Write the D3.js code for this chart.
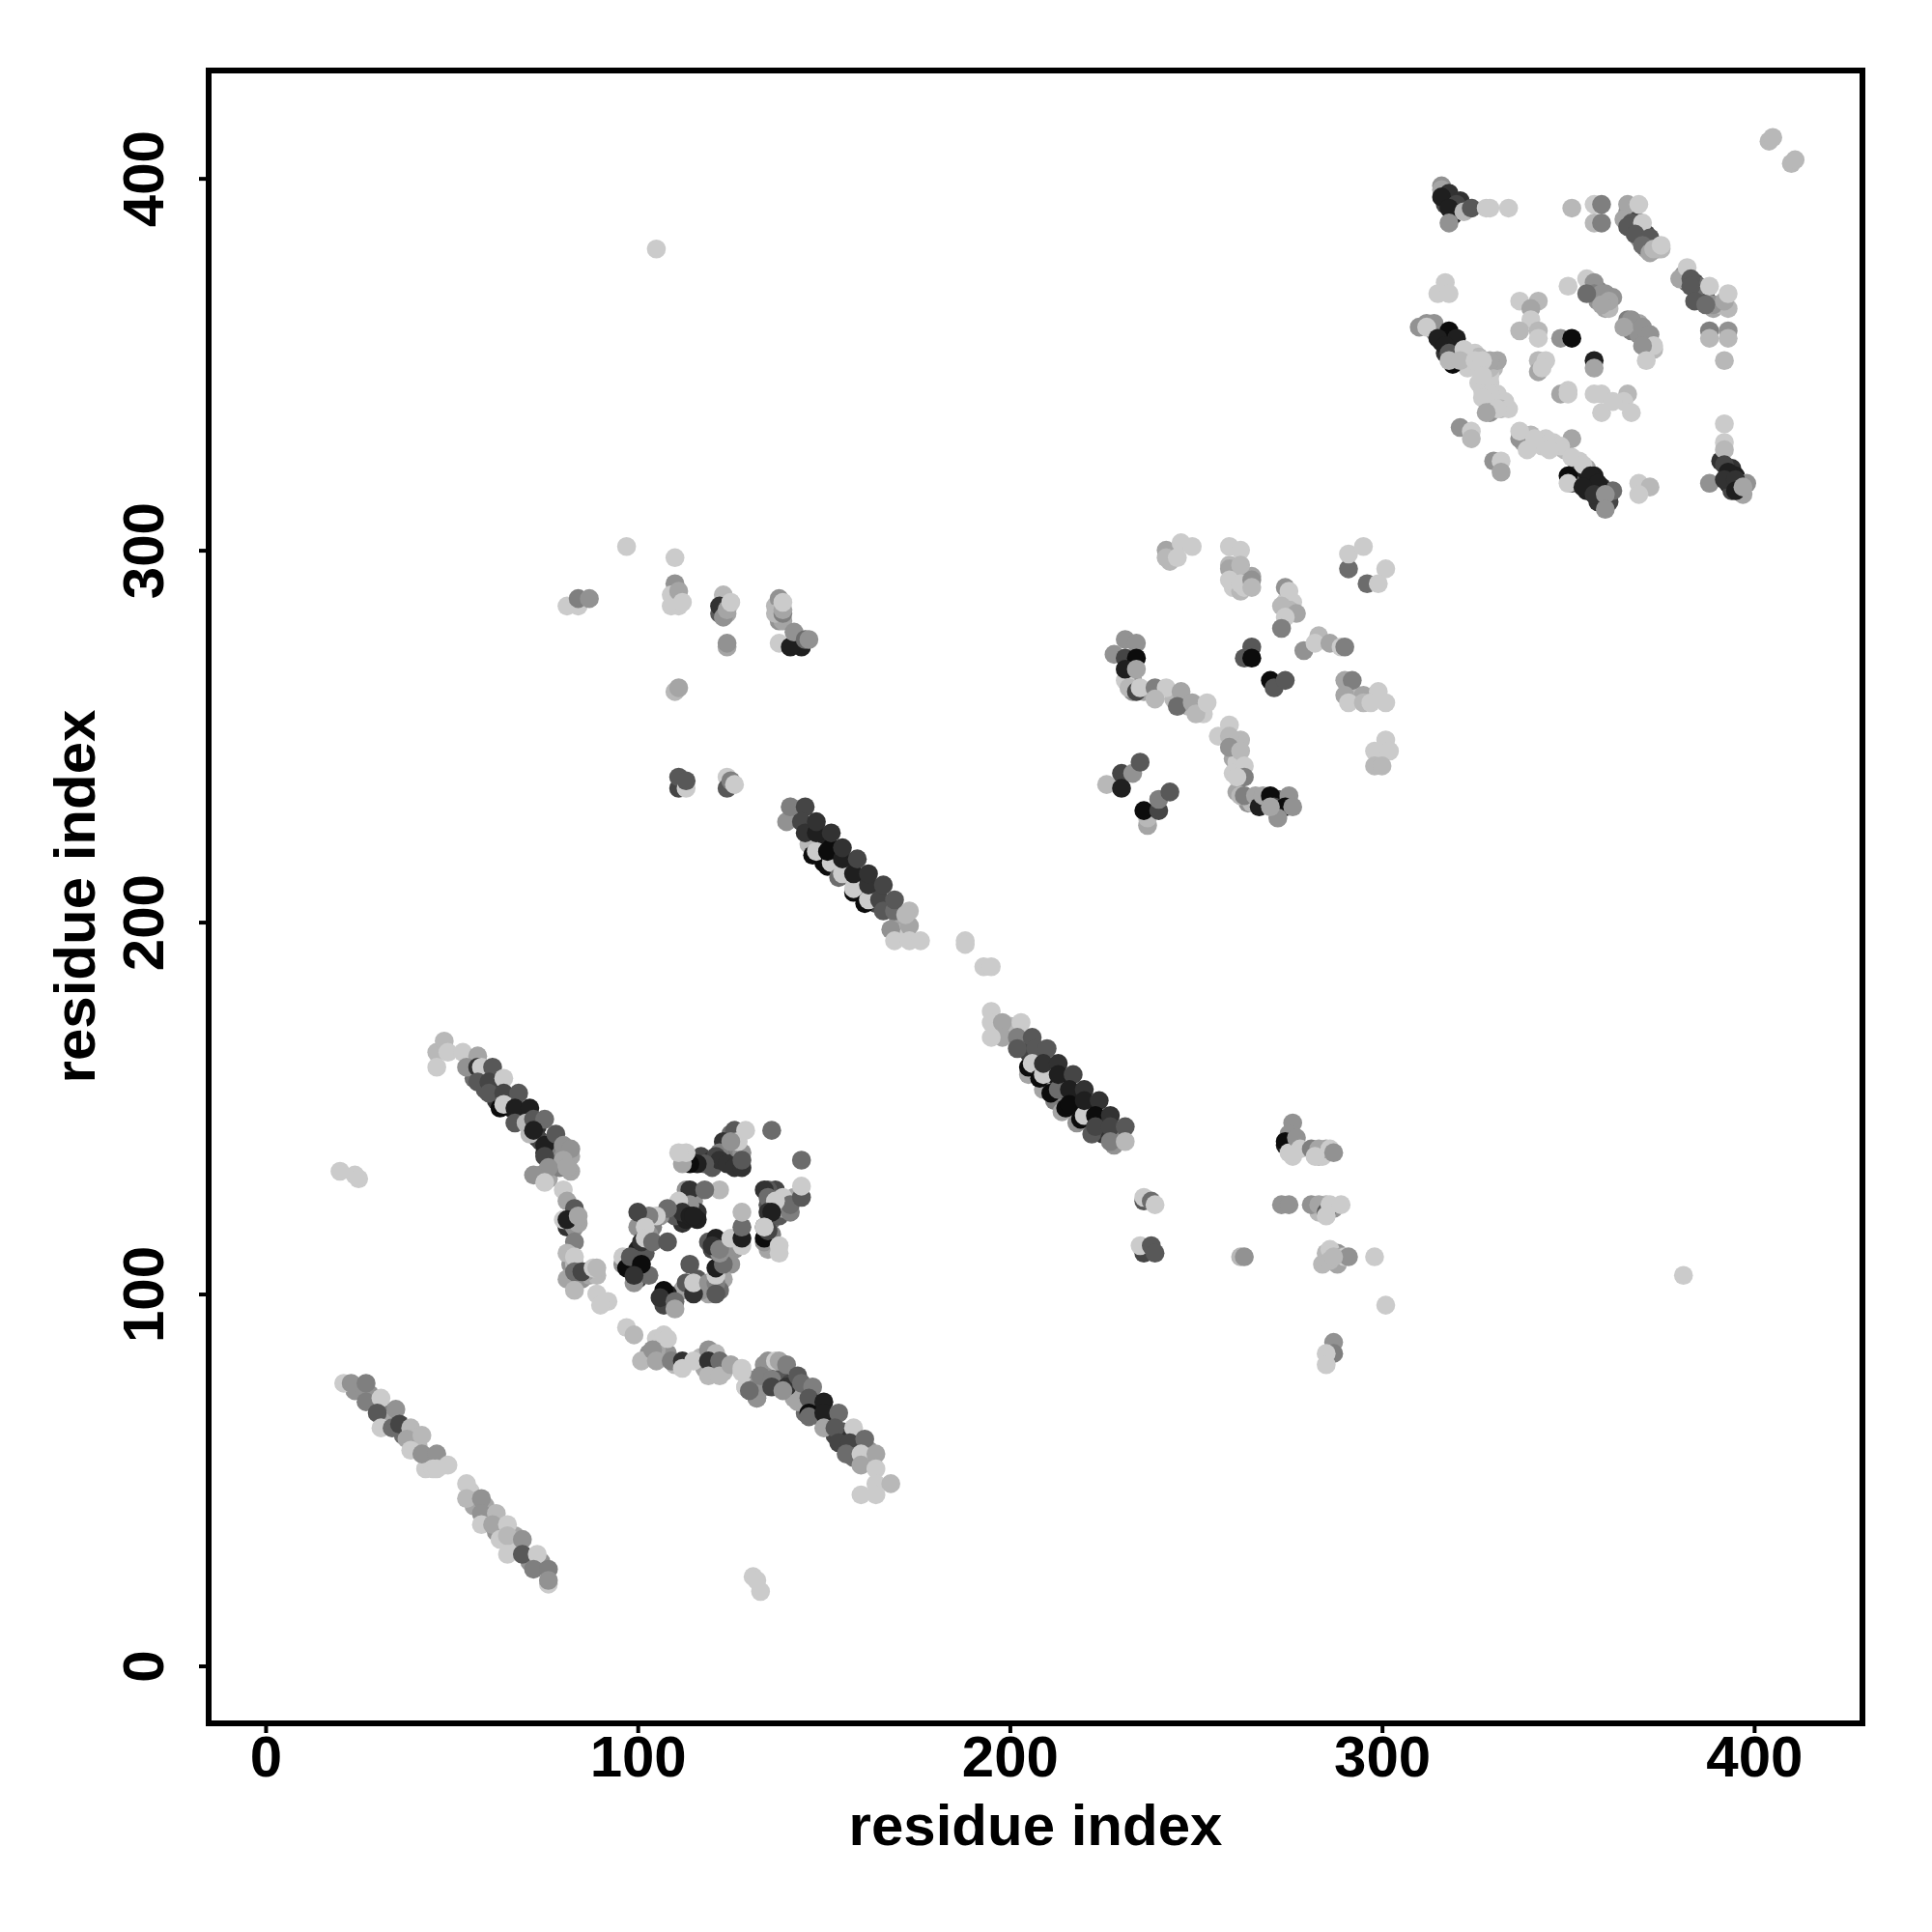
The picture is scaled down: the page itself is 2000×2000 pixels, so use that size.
<!DOCTYPE html>
<html><head><meta charset="utf-8">
<script src="https://cdn.jsdelivr.net/npm/d3@7"></script>
<style>html,body{margin:0;padding:0;background:#fff}svg{display:block}</style>
</head><body><div id="c"></div>
<script>
// rows: [residue i, residue j, score]
const fillDiagonals=[[143,228,7],[146,225,8],[147,222,10],[149,221,9],[150,220,9],[152,220,10],[153,218,9],[154,216,9],[156,215,8],[157,214,8],[159,212,8],[160,210,9],[161,209,8],[163,208,7],[164,205,7],[167,204,6],[168,204,5],[170,201,3],[171,200,2],[170,198,2],[171,197,1],[172,196,0],[146,221,1],[149,218,1],[150,216,10],[197,171,1],[199,170,2],[200,172,1],[204,168,6],[205,165,7],[208,163,8],[210,160,8],[211,158,9],[212,157,9],[214,157,9],[215,153,10],[217,153,9],[218,150,10],[219,149,8],[221,150,9],[222,147,9],[224,146,8],[225,143,8],[226,146,7],[229,143,6],[229,141,4],[205,159,2],[209,155,2],[212,152,4],[214,149,2],[218,146,3],[222,143,6],[228,140,3]];
const fillLeft=[[59,159,5],[62,156,7],[62,152,8],[65,152,8],[66,150,9],[68,148,9],[69,147,8],[70,148,9],[73,145,8],[73,142,8],[74,141,7],[75,138,8],[77,141,6],[78,138,5],[79,137,4],[80,137,3],[81,135,3],[82,133,2],[77,135,4],[74,132,3],[76,131,2],[79,134,4],[82,137,2],[56,158,5],[59,155,6],[81,118,8],[82,119,7],[83,118,3],[84,119,2],[82,108,3],[84,104,6],[85,104,3],[87,105,2],[89,105,1],[83,103,3],[81,104,2],[83,108,1],[103,84,3],[106,83,1],[107,85,4],[108,84,3],[110,81,1],[120,83,5],[121,81,6],[122,80,2],[123,79,1],[118,80,2],[117,83,1],[105,88,0],[105,85,2],[134,75,3],[136,79,4],[137,80,5],[138,78,6],[135,77,7],[141,76,7],[142,74,8],[144,73,9],[145,72,8],[148,70,9],[147,69,9],[149,67,8],[151,66,9],[152,66,7],[153,62,7],[155,63,6],[156,62,8],[157,58,6],[159,59,4],[161,55,3],[162,58,3],[163,55,2],[158,56,5],[145,68,5],[142,72,2],[133,76,5],[130,77,3],[24,74,3],[28,73,3],[33,68,4],[33,66,2],[37,62,5],[40,61,3],[41,59,1],[44,56,4],[43,53,0],[48,54,0],[55,47,0],[56,43,2],[59,43,2],[60,39,2],[63,37,0],[62,36,3],[67,35,2],[67,32,0],[71,28,3],[74,28,3]];
const fillCentre=[[117,137,7],[119,135,8],[120,136,8],[123,137,7],[124,137,8],[125,138,7],[126,137,8],[127,136,6],[124,140,5],[125,143,5],[127,139,4],[120,134,6],[128,138,3],[115,127,5],[115,125,3],[113,122,7],[111,123,5],[112,119,8],[110,121,6],[116,122,8],[116,120,9],[113,120,9],[106,121,3],[104,118,4],[102,120,2],[100,118,3],[103,116,3],[100,112,9],[102,111,6],[120,112,7],[119,114,6],[122,114,5],[123,113,3],[124,111,3],[126,112,3],[127,115,3],[125,108,3],[123,104,2],[122,101,5],[119,100,2],[117,101,3],[116,104,6],[112,101,2],[108,100,9],[109,97,3],[107,97,7],[100,104,7],[96,108,3],[99,103,3],[103,105,5],[135,112,2],[134,114,3],[136,116,4],[136,120,5],[138,121,6],[139,123,2],[141,122,4],[142,126,2],[137,128,7],[135,124,6]];
const fillUpper=[[261,294,2],[263,293,1],[260,290,0],[262,289,1],[263,290,0],[259,296,1],[244,299,1],[243,297,1],[265,293,2],[274,286,0],[276,286,0],[275,284,1],[233,265,2],[232,270,8],[232,266,3],[231,265,0],[233,262,3],[236,262,2],[244,260,1],[248,258,1],[252,256,0],[260,244,2],[262,249,1],[261,243,0],[260,240,0],[261,235,2],[264,232,3],[265,232,1],[269,232,8],[272,233,6],[291,263,1],[292,262,1],[294,260,1],[296,260,0],[298,261,0],[110,287,1],[111,285,0],[124,283,2],[122,283,6],[138,281,3],[137,285,1],[139,281,2],[143,276,8],[144,274,9],[274,140,9],[275,139,1],[276,137,0],[283,137,1],[284,137,0],[283,122,1],[285,124,1],[287,123,3],[285,111,1],[284,108,1],[288,111,3],[288,108,2]];
const fillTopRight=[[324,350,0],[326,349,0],[328,348,0],[330,349,1],[329,347,0],[326,345,0],[327,343,0],[329,345,0],[331,342,0],[333,340,0],[332,338,1],[334,338,0],[349,327,1],[353,324,0],[346,329,0],[344,330,0],[342,329,0],[340,331,1],[338,329,2],[355,322,2],[352,321,8],[353,319,9],[355,318,9],[357,320,9],[359,317,8],[360,316,9],[361,313,7],[358,313,8],[362,316,5],[355,316,9],[351,318,6],[394,322,8],[395,320,9],[396,318,8],[393,318,9],[394,316,7],[398,318,3],[397,315,2],[391,324,8],[317,395,8],[319,394,9],[318,394,9],[320,392,8],[319,390,9],[317,393,7],[322,392,3],[366,391,3],[367,390,5],[368,389,7],[369,387,7],[370,386,6],[371,385,7],[372,383,6],[373,382,5],[374,381,3],[372,382,2],[375,381,1],[369,384,3],[371,381,2],[381,374,3],[382,372,5],[384,372,7],[385,369,7],[386,368,6],[387,368,6],[388,366,4],[385,371,5],[389,365,2],[391,366,1],[393,365,1],[356,371,3],[358,370,4],[360,369,3],[360,365,2],[362,368,3],[358,367,3],[361,365,1],[366,362,4],[367,359,4],[369,358,3],[371,357,3],[372,356,2],[373,354,1],[369,361,2],[312,361,3],[314,359,4],[316,358,8],[316,356,9],[318,356,10],[319,355,10],[318,354,9],[320,352,8],[317,353,8],[321,353,3],[323,352,0],[325,353,0],[326,352,1],[327,350,1],[323,349,0],[329,349,1],[331,351,2]];
const strandA=[[21,76,0],[23,76,3],[27,76,4],[27,71,4],[31,72,0],[30,68,6],[35,69,3],[31,64,0],[34,64,5],[36,65,7],[39,64,1],[38,61,2],[42,62,1],[39,58,0],[42,57,3],[46,57,3],[45,53,0],[46,53,0],[49,54,0]];
const strandB=[[54,49,0],[54,45,1],[58,45,3],[58,41,3],[62,41,1],[58,38,0],[61,38,2],[65,38,0],[63,34,0],[65,35,1],[69,34,3],[65,30,0],[69,30,6],[73,30,0],[72,26,4],[76,26,4],[76,22,0],[76,23,3]];
const strandC=[[46,165,1],[46,161,0],[48,168,1],[49,165,0],[53,165,0],[57,164,2],[54,161,3],[57,161,8],[58,161,0],[61,161,6],[57,157,6],[60,157,7],[64,158,0],[60,154,6],[64,154,7],[68,154,6],[63,150,10],[64,151,0],[67,150,9],[71,150,9],[67,146,6],[70,146,1],[72,147,6],[75,147,5],[71,143,1],[72,144,9],[75,140,9],[78,143,6],[80,140,3],[82,139,3],[75,137,7],[80,136,2],[76,134,3],[72,132,3],[75,130,0],[81,134,2]];
const turn=[[80,128,0],[81,125,2],[80,120,0],[83,123,6],[81,120,9],[84,121,2],[83,114,4],[81,111,1],[83,110,0],[83,106,5],[86,106,2],[85,106,7],[88,107,0],[89,107,1],[83,101,1],[89,100,0],[92,98,0],[90,97,0],[97,91,0],[99,89,1],[101,82,1],[107,89,0],[108,88,0],[104,85,3],[105,82,2],[109,82,4],[112,82,8],[112,80,0],[115,82,0],[119,85,3],[121,84,1],[119,82,8],[122,82,5],[119,78,1],[122,78,1],[125,81,2],[128,79,0],[129,75,0],[132,72,3]];
const lowerStrand=[[128,80,0],[129,75,0],[132,75,3],[132,72,3],[130,74,5],[134,81,3],[135,82,3],[137,82,0],[138,82,2],[133,78,4],[136,77,4],[136,75,7],[140,75,8],[139,74,3],[140,81,4],[143,78,6],[144,76,5],[143,71,2],[147,75,4],[146,72,6],[146,68,10],[146,67,5],[150,71,9],[150,68,9],[150,64,2],[154,68,5],[153,64,6],[154,60,7],[158,64,0],[157,60,7],[161,61,5],[156,57,5],[160,57,0],[164,57,2],[160,54,2],[164,53,0],[164,49,0],[168,49,1],[160,46,0],[164,46,0]];
const centreTop=[[136,144,5],[144,136,5],[126,144,6],[123,141,8],[122,138,4],[121,137,7],[122,136,8],[124,135,8],[126,134,8],[128,134,8],[127,141,0],[129,144,0],[125,141,3],[128,136,6],[118,135,6],[116,135,9],[114,135,10],[112,135,2],[113,138,0],[111,138,0]];
const centreMid=[[122,128,1],[113,128,3],[114,128,8],[118,128,5],[114,124,3],[111,125,0],[112,122,8],[114,121,9],[115,121,9],[108,123,5],[105,121,0],[103,121,4],[100,122,7],[102,118,0],[101,114,8],[102,115,0],[104,114,5],[108,114,6]];
const centreLow=[[96,110,0],[97,107,10],[98,110,6],[101,108,10],[99,105,8],[114,108,6],[107,101,10],[106,99,8],[110,98,5],[110,96,2],[113,103,6],[115,100,8],[115,103,0],[119,103,3],[121,103,4],[121,105,0],[121,107,9],[121,100,6],[123,108,5],[122,111,3]];
const centreRight=[[121,115,9],[120,113,8],[122,112,4],[125,115,0],[128,113,0],[128,115,9],[128,118,5],[128,122,1],[135,128,6],[134,128,8],[135,126,5],[139,126,0],[141,124,5],[144,126,6],[144,129,0],[137,125,0],[135,122,8],[136,122,9],[134,118,6],[134,115,10],[135,117,7],[134,118,0],[138,113,0],[138,111,0]];
const upperA=[[141,231,0],[140,227,3],[141,231,4],[145,231,7],[144,227,7],[145,224,8],[147,218,10],[148,219,0],[151,215,10],[152,216,0],[154,212,5],[155,213,0],[158,208,10],[158,209,0],[161,205,10],[162,206,0],[148,224,9],[151,219,10],[155,217,9],[158,213,9],[162,210,8],[165,206,7],[166,203,6],[169,203,5],[148,227,8],[152,224,8],[155,220,8],[159,217,7],[162,213,8],[166,210,7],[169,206,6],[168,198,3],[169,195,0],[173,199,2],[173,195,0],[176,195,0],[173,203,1],[172,202,1]];
const gapPoints=[[188,195,0],[188,194,0],[193,188,0],[195,188,0],[105,381,0],[381,105,0],[301,97,0],[298,110,0],[20,133,0],[24,132,0],[25,131,0],[131,24,0],[133,20,0],[132,23,0]];
const lowerDiag=[[195,176,0],[195,173,0],[198,173,2],[198,169,2],[195,169,0],[203,173,0],[202,169,4],[206,169,6],[202,166,6],[207,166,6],[210,166,6],[205,161,10],[206,162,0],[208,158,10],[209,159,0],[209,162,8],[213,162,8],[211,154,10],[213,155,5],[213,159,9],[217,159,7],[216,155,9],[220,155,8],[215,150,10],[216,151,10],[219,147,10],[220,148,0],[220,152,9],[224,152,8],[223,148,10],[227,148,8],[223,145,7],[227,145,7],[231,145,6],[227,141,4],[231,141,1]];
const lowerRight=[[236,125,6],[236,126,0],[238,125,5],[239,124,0],[236,111,7],[235,113,0],[238,113,6],[239,111,6],[262,110,1],[263,110,3],[276,146,3],[275,143,3],[274,141,10],[275,138,0],[277,142,3],[278,139,0],[281,139,4],[283,139,2],[285,139,2],[286,139,0],[287,138,3],[282,137,0],[273,124,3],[275,124,3],[281,124,3],[283,124,2],[285,122,6],[286,124,0],[289,124,0],[285,121,0],[286,112,0],[286,109,1],[289,110,2],[290,110,0],[291,110,3],[287,87,3],[287,84,4],[285,84,0],[285,81,0],[287,110,1]];
const upperMiddle=[[81,285,0],[84,285,0],[84,287,4],[87,287,3],[97,301,0],[110,298,0],[110,291,3],[109,288,0],[109,285,0],[111,289,2],[112,286,0],[123,288,1],[122,285,8],[123,282,3],[124,284,2],[125,286,0],[124,274,2],[124,275,3],[138,287,3],[137,283,1],[139,283,4],[139,284,2],[139,286,0],[138,275,0],[141,274,9],[142,278,3],[145,276,5],[146,276,3],[110,262,1],[111,263,2],[111,236,7],[111,239,6],[113,236,0],[113,238,6],[124,239,0],[124,236,6],[125,238,4],[126,237,0]];
const upperGrid=[[242,300,2],[242,298,1],[246,302,0],[249,301,0],[245,298,0],[259,301,0],[262,300,0],[259,295,2],[262,296,1],[259,292,0],[262,291,0],[265,292,3],[265,290,1],[291,295,5],[291,299,0],[295,301,0],[301,295,0],[296,291,5],[299,291,0],[274,290,3],[275,289,0],[273,285,1],[277,283,2],[274,282,0],[273,279,4],[231,276,3],[228,272,3],[234,275,3],[231,271,7],[234,271,10],[231,268,9],[234,268,2],[232,263,1],[234,262,7],[235,263,0],[239,263,4],[242,263,0],[239,260,1],[246,262,2],[245,258,5],[249,259,2],[250,256,1],[253,259,0],[265,274,6],[263,271,6],[265,271,10],[270,265,10],[271,263,6],[274,265,6],[279,273,3],[283,277,1],[282,275,0],[286,275,2],[289,274,0],[290,274,4],[290,265,2],[292,265,4],[290,261,2],[295,261,2],[291,259,0],[299,262,0],[301,259,0],[295,259,1],[297,259,0]];
const upperLow=[[259,253,0],[256,250,0],[259,250,1],[259,247,3],[262,246,1],[263,242,0],[263,239,4],[261,239,0],[262,234,1],[263,234,4],[266,234,2],[267,231,9],[268,234,2],[270,234,10],[271,231,7],[275,234,3],[274,231,10],[276,231,3],[272,228,3],[270,231,2],[301,249,0],[298,246,0],[302,246,0],[298,242,1],[300,242,1],[226,237,1],[230,240,7],[233,240,3],[235,243,6],[230,236,9],[237,226,2],[237,228,1],[236,230,10],[240,230,7],[240,233,4],[243,235,6]];
const topLeftCorner=[[404,410,1],[405,411,1],[410,404,1],[411,405,1],[316,398,3],[316,397,2],[318,396,8],[316,395,9],[321,394,8],[320,393,7],[318,392,9],[322,391,1],[324,392,6],[318,388,3],[328,392,0],[329,392,0],[334,392,0],[351,392,1],[357,393,0],[359,393,4],[357,388,1],[359,388,4]];
const topRightStrand=[[366,393,2],[369,393,0],[365,389,2],[367,388,6],[366,387,6],[370,388,0],[368,385,6],[372,384,6],[370,382,5],[372,380,2],[373,381,1],[375,382,0],[380,373,2],[382,376,0],[383,373,6],[383,371,6],[384,367,6],[388,371,0],[389,366,3],[392,367,2],[393,369,0],[387,366,5],[388,359,4],[388,357,1],[393,359,3],[393,357,1],[392,351,1]];
const innerRing=[[317,372,0],[315,369,0],[318,369,0],[337,367,0],[342,367,1],[340,365,2],[340,362,0],[337,359,1],[342,359,1],[342,357,0],[350,371,0],[355,373,0],[357,372,3],[357,369,4],[359,369,3],[361,367,2],[359,366,2],[355,369,5],[367,362,3],[365,360,2],[370,360,3],[372,358,3],[373,355,0],[370,355,3],[371,351,0],[348,357,3],[351,357,10],[357,351,9],[357,349,2]];
const rightStrand=[[310,360,3],[314,361,3],[312,360,0],[318,359,10],[315,357,9],[320,357,9],[317,355,9],[318,353,6],[322,354,0],[319,350,10],[318,351,1],[321,351,1],[325,351,0],[329,351,2],[327,351,0],[327,347,0],[329,342,0],[327,341,0],[329,337,3],[331,338,0],[328,337,2],[342,351,1],[344,351,0],[342,348,2],[343,349,0],[348,342,2],[350,343,0],[350,342,0],[357,342,0],[359,342,0],[366,342,1],[365,340,0],[359,337,0],[367,337,0],[362,340,0]];
const lowerRightRing=[[321,333,3],[324,332,0],[324,330,1],[330,324,3],[332,324,0],[332,321,2],[337,330,3],[337,332,0],[341,330,0],[343,328,0],[339,327,0],[351,330,2],[348,328,0],[345,327,0],[351,325,0],[354,323,0],[350,320,10],[350,318,0],[356,320,9],[358,318,9],[354,317,9],[357,315,8],[360,315,3],[360,311,3],[369,318,0],[372,317,1],[369,315,0],[392,334,0],[392,329,0],[392,327,1],[392,323,7],[388,318,3],[393,321,9],[392,319,8],[395,319,8],[395,316,9],[397,317,2]];
const xTickValues=[0,100,200,300,400];
const yTickValues=[0,100,200,300,400];
const axisTitle="residue index";
const allContacts=[fillDiagonals,fillLeft,fillCentre,fillUpper,fillTopRight,strandA,strandB,strandC,turn,lowerStrand,centreTop,centreMid,centreLow,centreRight,upperA,gapPoints,lowerDiag,lowerRight,upperMiddle,upperGrid,upperLow,topLeftCorner,topRightStrand,innerRing,rightStrand,lowerRightRing].flat();

const W=2000,H=2000,L=216,R=1928,T=73,B=1784;
const x=d3.scaleLinear().domain([-15.3,429.1]).range([L,R]);
const y=d3.scaleLinear().domain([-15.45,429]).range([B,T]);
const shade=d3.scaleLinear().domain([0,10]).range([203,12]);
const svg=d3.select("#c").append("svg").attr("width",W).attr("height",H).attr("font-family","'Liberation Sans',Arial,sans-serif").attr("font-weight","bold");
svg.append("rect").attr("width",W).attr("height",H).attr("fill","#fff");
svg.append("g").selectAll("circle").data(allContacts).join("circle")
  .attr("cx",d=>x(d[0])).attr("cy",d=>y(d[1])).attr("r",9.8)
  .attr("fill",d=>{const g=Math.round(shade(d[2]));return `rgb(${g},${g},${g})`;});
svg.append("rect").attr("x",L).attr("y",T).attr("width",R-L).attr("height",B-T).attr("fill","none").attr("stroke","#000").attr("stroke-width",6);
const gx=svg.append("g").attr("transform",`translate(0,${B})`).call(d3.axisBottom(x).tickValues(xTickValues).tickSize(10).tickPadding(9).tickFormat(d3.format("d")));
const gy=svg.append("g").attr("transform",`translate(${L},0)`).call(d3.axisLeft(y).tickValues(yTickValues).tickSize(10).tickFormat(d3.format("d")));
[gx,gy].forEach(g=>{g.select(".domain").remove();g.selectAll("line").attr("stroke","#000").attr("stroke-width",4);g.selectAll("text").attr("fill","#000").attr("font-size",60).attr("font-family","'Liberation Sans',Arial,sans-serif").attr("font-weight","bold");});
gx.selectAll("text").attr("dy",null).attr("y",0).attr("dominant-baseline","auto").attr("transform","translate(0,55)");
gy.selectAll("text").attr("x",0).attr("y",0).attr("dy",null).attr("text-anchor","middle").attr("transform",function(){return "translate(-47,0) rotate(-90)";});
svg.append("text").attr("x",1072).attr("y",1910).attr("text-anchor","middle").attr("font-size",60).text(axisTitle);
svg.append("text").attr("transform","translate(98,928) rotate(-90)").attr("text-anchor","middle").attr("font-size",60).text(axisTitle);
</script></body></html>
